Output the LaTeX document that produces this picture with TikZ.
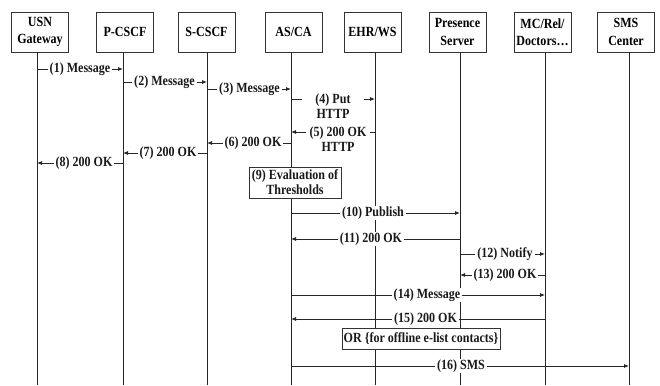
\documentclass[tikz,border=0pt]{standalone}
\usepackage{fontspec}
\setmainfont{Liberation Serif}[FakeStretch=0.86]
\usetikzlibrary{arrows.meta}
\begin{document}
\begin{tikzpicture}[x=1pt,y=-1pt,
  font=\fontsize{14}{15}\selectfont\bfseries,
  hdr/.style={draw=black!80, line width=0.9pt, minimum width=57pt, minimum height=40pt, align=center, inner sep=1pt, font=\fontsize{14}{17.5}\selectfont\bfseries},
  life/.style={line width=0.8pt, draw=black!85},
  msg/.style={line width=0.8pt, draw=black!85, -{Latex[length=5pt,width=4pt]}},
  lbl/.style={fill=white, inner xsep=2pt, inner ysep=0.5pt, align=center, text=black!90},
  evbox/.style={draw=black!80, fill=white, line width=0.9pt, align=center, inner sep=1.5pt, text=black!90}]
\useasboundingbox (0,0) rectangle (660,385);
\fill[white] (0,0) rectangle (660,385);
% headers
\node[hdr] (usn) at (40,32) {USN\\Gateway};
\node[hdr] (pcs) at (125,32) {P-CSCF};
\node[hdr] (scs) at (206.5,32) {S-CSCF};
\node[hdr] (asca) at (293.5,32) {AS/CA};
\node[hdr] (ehr) at (372.5,32) {EHR/WS};
\node[hdr] (pres) at (457.5,32) {Presence\\Server};
\node[hdr] (mc) at (542.5,32) {MC/Rel/\\Doctors\dots};
\node[hdr] (sms) at (626,32) {SMS\\Center};
% lifeline ends
\coordinate (Lusn) at (37,385);
\coordinate (Lpcs) at (123,385);
\coordinate (Lscs) at (207,385);
\coordinate (Las) at (291,385);
\coordinate (Lehr) at (375,385);
\coordinate (Lpres) at (460,385);
\coordinate (Lmc) at (545,385);
\coordinate (Lsms) at (629,385);
\draw[life] (usn.south -| Lusn) -- (Lusn);
\draw[life] (pcs.south -| Lpcs) -- (Lpcs);
\draw[life] (scs.south -| Lscs) -- (Lscs);
\draw[life] (asca.south -| Las) -- (Las);
\draw[life] (ehr.south -| Lehr) -- (Lehr);
\draw[life] (pres.south -| Lpres) -- (Lpres);
\draw[life] (mc.south -| Lmc) -- (Lmc);
\draw[life] (sms.south -| Lsms) -- (Lsms);
% messages
\draw[msg] (Lusn |- 0,69) -- (Lpcs |- 0,69);
\draw[msg] (Lpcs |- 0,82) -- (Lscs |- 0,82);
\draw[msg] (Lscs |- 0,89) -- (Las |- 0,89);
\draw[msg] (Las |- 0,99) -- (Lehr |- 0,99);
\draw[msg] (Lehr |- 0,132) -- (Las |- 0,132);
\draw[msg] (Las |- 0,143) -- (Lscs |- 0,143);
\draw[msg] (Lscs |- 0,153) -- (Lpcs |- 0,153);
\draw[msg] (Lpcs |- 0,163) -- (Lusn |- 0,163);
\draw[msg] (Las |- 0,213) -- (Lpres |- 0,213);
\draw[msg] (Lpres |- 0,239) -- (Las |- 0,239);
\draw[msg] (Lpres |- 0,254) -- (Lmc |- 0,254);
\draw[msg] (Lmc |- 0,275) -- (Lpres |- 0,275);
\draw[msg] (Las |- 0,295) -- (Lmc |- 0,295);
\draw[msg] (Lmc |- 0,319) -- (Las |- 0,319);
\draw[msg] (Las |- 0,366) -- (Lsms |- 0,366);
% labels
\node[lbl] (m1) at (80,69) {(1) Message};
\node[lbl] (m2) at (164.5,82) {(2) Message};
\node[lbl] (m3) at (249.5,89) {(3) Message};
\node[lbl, minimum width=62pt] (m4) at (333,106) {(4) Put\\HTTP};
\node[lbl, minimum width=64pt] (m5) at (338,139) {(5) 200 OK\\HTTP};
\node[lbl] (m6) at (253,143) {(6) 200 OK};
\node[lbl] (m7) at (168,153) {(7) 200 OK};
\node[lbl] (m8) at (84,163) {(8) 200 OK};
\node[evbox, minimum width=92pt, minimum height=31pt] (m9) at (295,182.5) {(9) Evaluation of\\Thresholds};
\node[lbl] (m10) at (373,213) {(10) Publish};
\node[lbl] (m11) at (371,239) {(11) 200 OK};
\node[lbl] (m12) at (505,254) {(12) Notify};
\node[lbl] (m13) at (505,275) {(13) 200 OK};
\node[lbl] (m14) at (427,295) {(14) Message};
\node[lbl] (m15) at (425.5,319) {(15) 200 OK};
\node[evbox, minimum width=158pt, minimum height=21pt, inner sep=1pt] (orb) at (421,338.5) {OR \{for offline e-list contacts\}};
\node[lbl] (m16) at (461,366) {(16) SMS};
\end{tikzpicture}
\end{document}
